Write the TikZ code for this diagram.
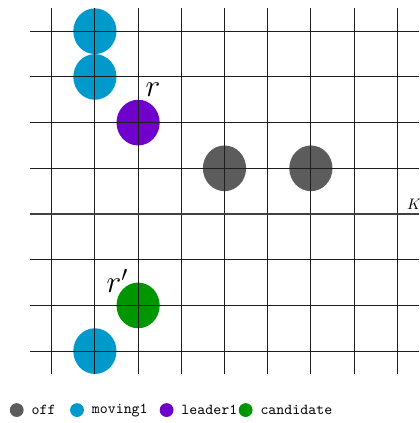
\documentclass[tikz,border=0pt]{standalone}
\usepackage{amsmath,amssymb}
\usetikzlibrary{positioning,shapes.geometric}
\definecolor{offgray}{RGB}{92,92,92}
\definecolor{movblue}{RGB}{0,153,204}
\definecolor{leadpurple}{RGB}{112,0,204}
\definecolor{candgreen}{RGB}{0,150,0}
\definecolor{gridink}{RGB}{30,30,30}
\tikzset{
  robot/.style={ellipse, draw=none, minimum width=1cm, minimum height=1.058cm, inner sep=0pt},
  gridline/.style={draw=gridink, line width=0.6pt},
  kline/.style={draw=black!75, line width=1.8pt},
  legdot/.style={circle, draw=none, minimum size=0.32cm, inner sep=0pt},
  legtxt/.style={font=\ttfamily, text=black, inner sep=2pt, anchor=west},
  rlbl/.style={font=\huge, text=black, inner sep=0pt},
}

\begin{document}
\begin{tikzpicture}[x=1cm, y=1.058cm]
  \useasboundingbox (-1.197,-4.573) rectangle (8.526,4.683);

  % robots
  \node[robot, fill=movblue]    (m1) at (1,4)  {};
  \node[robot, fill=movblue]    (m2) at (1,3)  {};
  \node[robot, fill=leadpurple] (r)  at (2,2)  {};
  \node[robot, fill=offgray]    (o1) at (4,1)  {};
  \node[robot, fill=offgray]    (o2) at (6,1)  {};
  \node[robot, fill=candgreen]  (rp) at (2,-2) {};
  \node[robot, fill=movblue]    (m3) at (1,-3) {};

  % grid on top
  \foreach \x in {0,...,8}
    \draw[gridline] (\x,-3.5) -- (\x,4.5);
  \foreach \y in {-3,-2,-1,1,2,3,4}
    \draw[gridline] (-0.5,\y) -- (8.5,\y);
  \draw[kline] (-0.5,0) -- (8.5,0);
  \node[anchor=base west, inner sep=0pt] (klbl) at (8.22,0.09) {$K$};

  % labels
  \node[rlbl] (rname)  at (2.345,2.72)  {$r$};
  \node[rlbl] (rpname) at (1.52,-1.47)  {$r'$};

  % legend
  \node[legdot, fill=offgray]    (lgoff)  at (-0.81,-4.29) {};
  \node[legtxt, right=0.1cm of lgoff]   (txoff)  {off};
  \node[legdot, fill=movblue]    (lgmov)  at (0.586,-4.29) {};
  \node[legtxt, right=0.1cm of lgmov]   (txmov)  {moving1};
  \node[legdot, fill=leadpurple] (lglead) at (2.66,-4.29) {};
  \node[legtxt, right=0.1cm of lglead]  (txlead) {leader1};
  \node[legdot, fill=candgreen]  (lgcand) at (4.49,-4.29) {};
  \node[legtxt, right=0.1cm of lgcand]  (txcand) {candidate};
\end{tikzpicture}
\end{document}
